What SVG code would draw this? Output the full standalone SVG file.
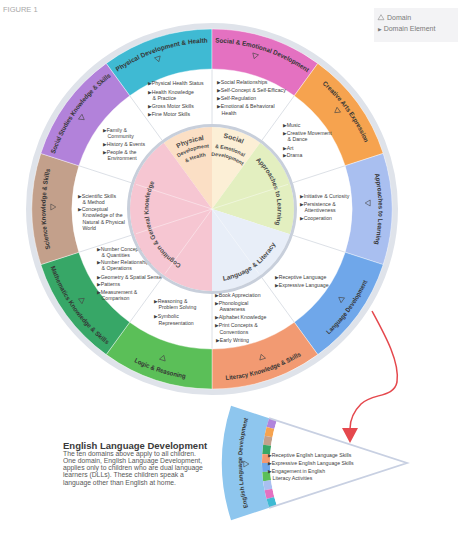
<svg xmlns="http://www.w3.org/2000/svg" width="461" height="548" viewBox="0 0 461 548">
<style>
text{font-family:"Liberation Sans",Arial,sans-serif}
.lbl{font-weight:bold;font-size:6.5px;fill:#353535}
.pl{font-weight:bold;font-size:5.2px;fill:#4a4a4a}
.pt{font-weight:bold;font-size:6.8px;fill:#4a4a4a}
.el{font-size:5.2px;fill:#404040}
.b{font-size:4.8px;font-family:"DejaVu Sans",sans-serif}
.tri{fill:none;stroke:#444;stroke-width:0.6}
.div{stroke:#d3d8e0;stroke-width:0.8}
.pdiv{stroke:#ffffff;stroke-width:0.7;opacity:0.6}
.seg{stroke:#ffffff;stroke-width:0.4}
.para{font-size:6.8px;fill:#585858}
</style>
<defs>
<path id="tri" d="M-3,-2.2 L3,-2.2 L0,2.8 Z"/>
<path id="pPhys" d="M88.27,97.59 A166.5,166.5 0 0 1 246.62,46.14"/>
<path id="pSoc" d="M177.38,46.14 A166.5,166.5 0 0 1 335.73,97.59"/>
<path id="pCre" d="M279.72,56.89 A166.5,166.5 0 0 1 377.59,191.60"/>
<path id="pApp" d="M356.19,125.75 A166.5,166.5 0 0 1 356.19,292.25"/>
<path id="pSci" d="M67.81,292.25 A166.5,166.5 0 0 1 67.81,125.75"/>
<path id="pSS" d="M46.41,191.60 A166.5,166.5 0 0 1 144.28,56.89"/>
<path id="pLang" d="M281.76,365.67 A171.5,171.5 0 0 0 382.56,226.93"/>
<path id="pLit" d="M176.34,376.75 A171.5,171.5 0 0 0 339.45,323.76"/>
<path id="pLog" d="M84.55,323.76 A171.5,171.5 0 0 0 247.66,376.75"/>
<path id="pMath" d="M41.44,226.93 A171.5,171.5 0 0 0 142.24,365.67"/>
<path id="qPhys1" d="M153.06,172.17 A69.5,69.5 0 0 1 238.04,144.56"/>
<path id="qPhys2" d="M159.85,176.41 A61.5,61.5 0 0 1 235.04,151.98"/>
<path id="qPhys3" d="M167.05,180.91 A53,53 0 0 1 231.85,159.86"/>
<path id="qSoc1" d="M183.87,142.72 A72,72 0 0 1 272.38,169.79"/>
<path id="qSoc2" d="M188.17,152.85 A61,61 0 0 1 263.16,175.78"/>
<path id="qSoc3" d="M191.29,160.21 A53,53 0 0 1 256.45,180.13"/>
<path id="qApp" d="M237.59,148.71 A65.5,65.5 0 0 1 266.93,244.67"/>
<path id="qLang" d="M199.41,280.40 A72.5,72.5 0 0 0 283.40,221.59"/>
<path id="qCog" d="M193.43,269.73 A63.5,63.5 0 0 1 161.29,170.78"/>
<path id="qEld" d="M264.11,545.5 A165,165 0 0 1 264.11,380.5"/>
</defs>
<rect width="461" height="548" fill="#ffffff"/>
<text x="3" y="12" font-size="7.5" fill="#a8a8a8">FIGURE 1</text>
<g id="legend">
<rect x="374" y="8" width="84" height="34" fill="#f3f3f5"/>
<path d="M-3,-2.2 L3,-2.2 L0,2.8 Z" transform="translate(381,17.5) rotate(180)" fill="none" stroke="#888" stroke-width="0.6"/>
<text x="387" y="20" font-size="7" fill="#7a7a7a">Domain</text>
<text x="378" y="31" font-size="7" fill="#7a7a7a"><tspan class="b" font-size="6">▶</tspan> Domain Element</text>
</g>
<g id="wheel-rim"><circle cx="212" cy="209" r="183" fill="#ffffff" stroke="#dfe3ea" stroke-width="6"/></g>
<g id="dividers">
<line class="div" x1="212" y1="124" x2="212" y2="69"/>
<line class="div" x1="261.96" y1="140.23" x2="294.29" y2="95.74"/>
<line class="div" x1="292.84" y1="182.73" x2="345.15" y2="165.74"/>
<line class="div" x1="292.84" y1="235.27" x2="345.15" y2="252.26"/>
<line class="div" x1="261.96" y1="277.77" x2="294.29" y2="322.26"/>
<line class="div" x1="212" y1="294" x2="212" y2="349"/>
<line class="div" x1="162.04" y1="277.77" x2="129.71" y2="322.26"/>
<line class="div" x1="131.16" y1="235.27" x2="78.85" y2="252.26"/>
<line class="div" x1="131.16" y1="182.73" x2="78.85" y2="165.74"/>
<line class="div" x1="162.04" y1="140.23" x2="129.71" y2="95.74"/>
</g>
<g id="physical-development-health">
<path class="seg" fill="#3fbad3" d="M106.20,63.38 A180,180 0 0 1 212,29 L212,69 A140,140 0 0 0 129.71,95.74 Z"/>
<text class="lbl"><textPath href="#pPhys" startOffset="50%" text-anchor="middle" textLength="96" lengthAdjust="spacingAndGlyphs">Physical Development &amp; Health</textPath></text>
<use href="#tri" class="tri" transform="translate(158,59) rotate(342)"/>
<text class="el" x="148" y="85"><tspan class="b">▶</tspan>Physical Health Status</text>
<text class="el" x="148" y="93.5"><tspan class="b">▶</tspan>Health Knowledge</text>
<text class="el" x="152.5" y="99.8">&amp; Practice</text>
<text class="el" x="148" y="108"><tspan class="b">▶</tspan>Gross Motor Skills</text>
<text class="el" x="148" y="116"><tspan class="b">▶</tspan>Fine Motor Skills</text>
</g>
<g id="social-emotional-development">
<path class="seg" fill="#e471c1" d="M212,29 A180,180 0 0 1 317.80,63.38 L294.29,95.74 A140,140 0 0 0 212,69 Z"/>
<text class="lbl"><textPath href="#pSoc" startOffset="50%" text-anchor="middle" textLength="98" lengthAdjust="spacingAndGlyphs">Social &amp; Emotional Development</textPath></text>
<use href="#tri" class="tri" transform="translate(255,56) rotate(18)"/>
<text class="el" x="217" y="84"><tspan class="b">▶</tspan>Social Relationships</text>
<text class="el" x="217" y="92"><tspan class="b">▶</tspan>Self-Concept &amp; Self-Efficacy</text>
<text class="el" x="217" y="100"><tspan class="b">▶</tspan>Self-Regulation</text>
<text class="el" x="217" y="108"><tspan class="b">▶</tspan>Emotional &amp; Behavioral</text>
<text class="el" x="221.5" y="114.5">Health</text>
</g>
<g id="creative-arts-expression">
<path class="seg" fill="#f6a34f" d="M317.80,63.38 A180,180 0 0 1 383.20,153.38 L345.15,165.74 A140,140 0 0 0 294.29,95.74 Z"/>
<text class="lbl"><textPath href="#pCre" startOffset="50%" text-anchor="middle" textLength="73" lengthAdjust="spacingAndGlyphs">Creative Arts Expression</textPath></text>
<use href="#tri" class="tri" transform="translate(337,111) rotate(54)"/>
<text class="el" x="283" y="127"><tspan class="b">▶</tspan>Music</text>
<text class="el" x="283" y="134.5"><tspan class="b">▶</tspan>Creative Movement</text>
<text class="el" x="287.5" y="140.8">&amp; Dance</text>
<text class="el" x="283" y="149.5"><tspan class="b">▶</tspan>Art</text>
<text class="el" x="283" y="156.5"><tspan class="b">▶</tspan>Drama</text>
</g>
<g id="approaches-to-learning">
<path class="seg" fill="#a9bff0" d="M383.20,153.38 A180,180 0 0 1 383.20,264.62 L345.15,252.26 A140,140 0 0 0 345.15,165.74 Z"/>
<text class="lbl"><textPath href="#pApp" startOffset="50%" text-anchor="middle" textLength="71" lengthAdjust="spacingAndGlyphs">Approaches to Learning</textPath></text>
<use href="#tri" class="tri" transform="translate(368,203) rotate(90)"/>
<text class="el" x="300" y="198"><tspan class="b">▶</tspan>Initiative &amp; Curiosity</text>
<text class="el" x="300" y="205.8"><tspan class="b">▶</tspan>Persistence &amp;</text>
<text class="el" x="304.5" y="212">Attentiveness</text>
<text class="el" x="300" y="220"><tspan class="b">▶</tspan>Cooperation</text>
</g>
<g id="language-development">
<path class="seg" fill="#6fa7ea" d="M383.20,264.62 A180,180 0 0 1 317.80,354.62 L294.29,322.26 A140,140 0 0 0 345.15,252.26 Z"/>
<text class="lbl"><textPath href="#pLang" startOffset="50%" text-anchor="middle" textLength="66" lengthAdjust="spacingAndGlyphs">Language Development</textPath></text>
<use href="#tri" class="tri" transform="translate(341,299) rotate(126)"/>
<text class="el" x="275" y="279"><tspan class="b">▶</tspan>Receptive Language</text>
<text class="el" x="275" y="287"><tspan class="b">▶</tspan>Expressive Language</text>
</g>
<g id="literacy-knowledge-skills">
<path class="seg" fill="#f29a72" d="M317.80,354.62 A180,180 0 0 1 212,389 L212,349 A140,140 0 0 0 294.29,322.26 Z"/>
<text class="lbl"><textPath href="#pLit" startOffset="50%" text-anchor="middle" textLength="80" lengthAdjust="spacingAndGlyphs">Literacy Knowledge &amp; Skills</textPath></text>
<use href="#tri" class="tri" transform="translate(262,357) rotate(162)"/>
<text class="el" x="215" y="297"><tspan class="b">▶</tspan>Book Appreciation</text>
<text class="el" x="215" y="305"><tspan class="b">▶</tspan>Phonological</text>
<text class="el" x="219.5" y="311.3">Awareness</text>
<text class="el" x="215" y="319"><tspan class="b">▶</tspan>Alphabet Knowledge</text>
<text class="el" x="215" y="327"><tspan class="b">▶</tspan>Print Concepts &amp;</text>
<text class="el" x="219.5" y="333.5">Conventions</text>
<text class="el" x="216" y="341.5"><tspan class="b">▶</tspan>Early Writing</text>
</g>
<g id="logic-reasoning">
<path class="seg" fill="#5bbf58" d="M212,389 A180,180 0 0 1 106.20,354.62 L129.71,322.26 A140,140 0 0 0 212,349 Z"/>
<text class="lbl"><textPath href="#pLog" startOffset="50%" text-anchor="middle" textLength="54" lengthAdjust="spacingAndGlyphs">Logic &amp; Reasoning</textPath></text>
<use href="#tri" class="tri" transform="translate(163,358) rotate(198)"/>
<text class="el" x="154" y="303"><tspan class="b">▶</tspan>Reasoning &amp;</text>
<text class="el" x="158.5" y="309.3">Problem Solving</text>
<text class="el" x="154" y="318"><tspan class="b">▶</tspan>Symbolic</text>
<text class="el" x="158.5" y="324.5">Representation</text>
</g>
<g id="mathematics-knowledge-skills">
<path class="seg" fill="#37a767" d="M106.20,354.62 A180,180 0 0 1 40.80,264.62 L78.85,252.26 A140,140 0 0 0 129.71,322.26 Z"/>
<text class="lbl"><textPath href="#pMath" startOffset="50%" text-anchor="middle" textLength="97" lengthAdjust="spacingAndGlyphs">Mathematics Knowledge &amp; Skills</textPath></text>
<use href="#tri" class="tri" transform="translate(82,300) rotate(234)"/>
<text class="el" x="97" y="251"><tspan class="b">▶</tspan>Number Concepts</text>
<text class="el" x="101.5" y="257.3">&amp; Quantities</text>
<text class="el" x="97" y="264"><tspan class="b">▶</tspan>Number Relationships</text>
<text class="el" x="101.5" y="270.3">&amp; Operations</text>
<text class="el" x="97" y="278.5"><tspan class="b">▶</tspan>Geometry &amp; Spatial Sense</text>
<text class="el" x="97" y="286"><tspan class="b">▶</tspan>Patterns</text>
<text class="el" x="97" y="294"><tspan class="b">▶</tspan>Measurement &amp;</text>
<text class="el" x="101.5" y="300.3">Comparison</text>
</g>
<g id="science-knowledge-skills">
<path class="seg" fill="#c3a08b" d="M40.80,264.62 A180,180 0 0 1 40.80,153.38 L78.85,165.74 A140,140 0 0 0 78.85,252.26 Z"/>
<text class="lbl"><textPath href="#pSci" startOffset="50%" text-anchor="middle" textLength="80" lengthAdjust="spacingAndGlyphs">Science Knowledge &amp; Skills</textPath></text>
<use href="#tri" class="tri" transform="translate(53,207) rotate(270)"/>
<text class="el" x="78" y="198"><tspan class="b">▶</tspan>Scientific Skills</text>
<text class="el" x="82.5" y="204.3">&amp; Method</text>
<text class="el" x="78" y="211"><tspan class="b">▶</tspan>Conceptual</text>
<text class="el" x="82.5" y="217.3">Knowledge of the</text>
<text class="el" x="82.5" y="223.8">Natural &amp; Physical</text>
<text class="el" x="82.5" y="230.3">World</text>
</g>
<g id="social-studies-knowledge-skills">
<path class="seg" fill="#b282da" d="M40.80,153.38 A180,180 0 0 1 106.20,63.38 L129.71,95.74 A140,140 0 0 0 78.85,165.74 Z"/>
<text class="lbl"><textPath href="#pSS" startOffset="50%" text-anchor="middle" textLength="97" lengthAdjust="spacingAndGlyphs">Social Studies Knowledge &amp; Skills</textPath></text>
<use href="#tri" class="tri" transform="translate(82,118) rotate(306)"/>
<text class="el" x="103" y="132"><tspan class="b">▶</tspan>Family &amp;</text>
<text class="el" x="107.5" y="138.3">Community</text>
<text class="el" x="103" y="146"><tspan class="b">▶</tspan>History &amp; Events</text>
<text class="el" x="103" y="154"><tspan class="b">▶</tspan>People &amp; the</text>
<text class="el" x="107.5" y="160.3">Environment</text>
</g>
<g id="pie-physical">
<path fill="#fbdfc5" d="M212,209 L163.80,142.66 A82,82 0 0 1 212,127 Z"/>
<text class="pt"><textPath href="#qPhys1" startOffset="50%" text-anchor="middle">Physical</textPath></text>
<text class="pl"><textPath href="#qPhys2" startOffset="50%" text-anchor="middle">Development</textPath></text>
<text class="pl"><textPath href="#qPhys3" startOffset="50%" text-anchor="middle">&amp; Health</textPath></text>
</g>
<g id="pie-social">
<path fill="#fcefd6" d="M212,209 L212,127 A82,82 0 0 1 260.20,142.66 Z"/>
<text class="pt"><textPath href="#qSoc1" startOffset="50%" text-anchor="middle">Social</textPath></text>
<text class="pl"><textPath href="#qSoc2" startOffset="50%" text-anchor="middle">&amp; Emotional</textPath></text>
<text class="pl"><textPath href="#qSoc3" startOffset="50%" text-anchor="middle">Development</textPath></text>
</g>
<g id="pie-approaches">
<path fill="#e3efc0" d="M212,209 L260.20,142.66 A82,82 0 0 1 289.99,234.34 Z"/>
<text class="lbl" style="fill:#4a4a4a"><textPath href="#qApp" startOffset="50%" text-anchor="middle" textLength="71" lengthAdjust="spacingAndGlyphs">Approaches to Learning</textPath></text>
</g>
<g id="pie-language">
<path fill="#e8eef8" d="M212,209 L289.99,234.34 A82,82 0 0 1 212,291 Z"/>
<text class="lbl" style="fill:#4a4a4a"><textPath href="#qLang" startOffset="50%" text-anchor="middle" textLength="66" lengthAdjust="spacingAndGlyphs">Language &amp; Literacy</textPath></text>
</g>
<g id="pie-cognition">
<path fill="#f6c6d2" d="M212,209 L212,291 A82,82 0 0 1 163.80,142.66 Z"/>
<text class="lbl" style="fill:#4a4a4a"><textPath href="#qCog" startOffset="50%" text-anchor="middle" textLength="95" lengthAdjust="spacingAndGlyphs">Cognition &amp; General Knowledge</textPath></text>
</g>
<g id="pie-lines">
<line class="pdiv" x1="212" y1="209" x2="288.09" y2="184.28"/>
<line class="pdiv" x1="212" y1="209" x2="259.02" y2="273.72"/>
<line class="pdiv" x1="212" y1="209" x2="164.98" y2="273.72"/>
<line class="pdiv" x1="212" y1="209" x2="135.91" y2="233.72"/>
<line class="pdiv" x1="212" y1="209" x2="135.91" y2="184.28"/>
<circle cx="212" cy="209" r="83.5" fill="none" stroke="#c8cfdb" stroke-width="3"/>
</g>
<g id="english-language-development">
<path fill="#8ec6ee" d="M231.05,405.83 A185,185 0 0 0 231.05,520.17 L269.10,507.81 A145,145 0 0 1 269.10,418.19 Z"/>
<polygon fill="#b084dc" points="269.10,418.19 266.56,426.94 274.30,428.93 276.70,420.66"/>
<polygon fill="#f6a34f" points="266.56,426.94 264.57,435.83 272.43,437.33 274.30,428.93"/>
<polygon fill="#c3a08b" points="264.57,435.83 263.14,444.83 271.08,445.83 272.43,437.33"/>
<polygon fill="#37a767" points="263.14,444.83 262.29,453.90 270.27,454.40 271.08,445.83"/>
<polygon fill="#f29a72" points="262.29,453.90 262,463 270,463 270.27,454.40"/>
<polygon fill="#6fa7ea" points="262,463 262.29,472.10 270.27,471.60 270,463"/>
<polygon fill="#5bbf58" points="262.29,472.10 263.14,481.17 271.08,480.17 270.27,471.60"/>
<polygon fill="#a9bff0" points="263.14,481.17 264.57,490.17 272.43,488.67 271.08,480.17"/>
<polygon fill="#e471c1" points="264.57,490.17 266.56,499.06 274.30,497.07 272.43,488.67"/>
<polygon fill="#3fbad3" points="266.56,499.06 269.10,507.81 276.70,505.34 274.30,497.07"/>
<path fill="#ffffff" d="M276.70,420.66 L407,463 L276.70,505.34 A137,137 0 0 1 276.70,420.66 Z"/>
<polyline points="269.10,418.19 407,463 269.10,507.81" fill="none" stroke="#c8d0e2" stroke-width="1.8" stroke-linejoin="miter"/>
<text class="lbl" style="font-size:6px"><textPath href="#qEld" startOffset="50%" text-anchor="middle" textLength="90" lengthAdjust="spacingAndGlyphs">English Language Development</textPath></text>
<use href="#tri" class="tri" transform="translate(246,464) rotate(270)"/>
<text class="el" x="268" y="457"><tspan class="b">▶</tspan>Receptive English Language Skills</text>
<text class="el" x="268" y="465"><tspan class="b">▶</tspan>Expressive English Language Skills</text>
<text class="el" x="268" y="473"><tspan class="b">▶</tspan>Engagement in English</text>
<text class="el" x="272.5" y="479.5">Literacy Activities</text>
</g>
<g id="eld-description">
<text x="63" y="449" font-size="9.5" font-weight="bold" fill="#3a3a3a">English Language Development</text>
<text class="para" x="63" y="455.5">The ten domains above apply to all children.</text>
<text class="para" x="63" y="462.8">One domain, English Language Development,</text>
<text class="para" x="63" y="470">applies only to children who are dual language</text>
<text class="para" x="63" y="477.3">learners (DLLs). These children speak a</text>
<text class="para" x="63" y="484.5">language other than English at home.</text>
</g>
<g id="connectors">
<path d="M372,311 C385,335 400,362 397,382 C394,398 372,393 361,404 C353,412 350,420 350,429" fill="none" stroke="#e5484d" stroke-width="1.5"/>
<polygon points="342,428 358,428 350,443" fill="#e5484d"/>
</g>
</svg>
